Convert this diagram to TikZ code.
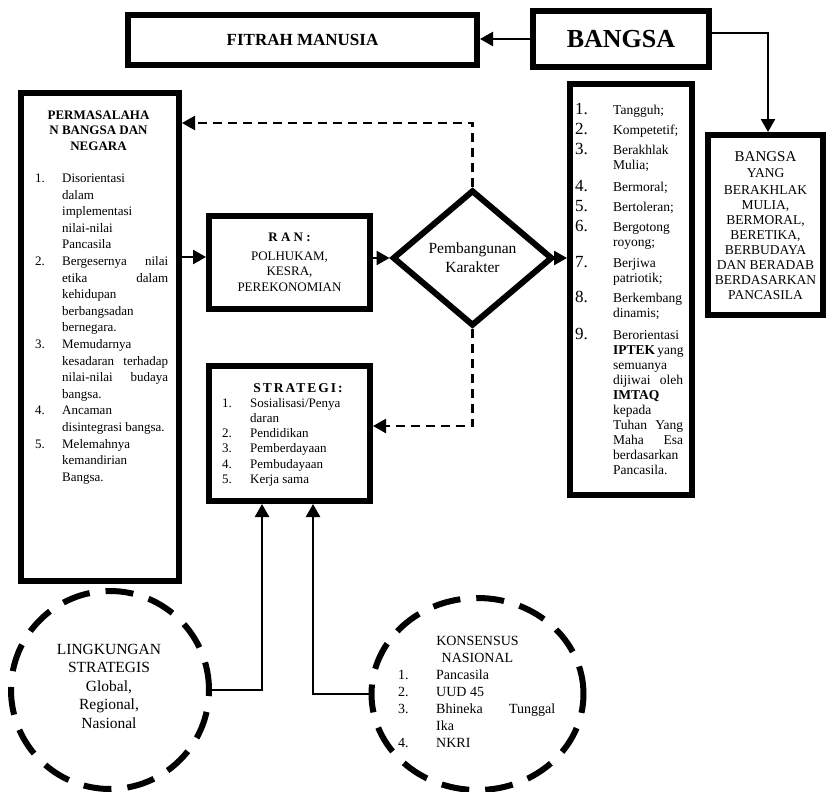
\documentclass[tikz,border=0pt]{standalone}
\usepackage{fontspec}
\setmainfont{Liberation Serif}
\usetikzlibrary{arrows.meta,shapes.geometric,positioning}

\newcommand{\nomor}[2][27pt]{\makebox[#1][l]{#2}}
\newcommand{\lanjut}[1][27pt]{\hspace*{#1}}
\newcommand{\rata}[2]{\makebox[#1][s]{#2}}

\tikzset{
  bingkai/.style={draw, line width=6pt, inner sep=0pt},
  txt/.style={inner sep=0pt, anchor=base west},
  link/.style={line width=2.5pt, -{Triangle[length=13pt,width=14pt]}},
  dashlink/.style={link, dash pattern=on 9pt off 6pt},
  ring/.style={draw, line width=6pt, dash pattern=on 28pt off 16pt, inner sep=0pt}
}

\begin{document}
\begin{tikzpicture}[x=1pt, y=-1pt, font=\fontsize{13}{15.5}\selectfont]
\useasboundingbox (0,0) rectangle (828,792);

% kotak-kotak
\node[bingkai, minimum width=349pt, minimum height=50pt, font=\fontsize{17}{20}\selectfont\bfseries] (fitrah) at (302.5,40) {FITRAH MANUSIA};
\node[bingkai, minimum width=176pt, minimum height=56pt, font=\fontsize{26}{30}\selectfont\bfseries] (bangsa) at (621,39) {BANGSA};
\node[bingkai, minimum width=115pt, minimum height=180pt] (moral) at (765.5,225) {};
\node[bingkai, minimum width=122pt, minimum height=411pt] (ciri) at (631,289.5) {};
\node[bingkai, minimum width=158pt, minimum height=488pt] (masalah) at (100,337) {};
\node[bingkai, minimum width=161pt, minimum height=93pt, align=center] (ran) at (289.5,262.5) {\textbf{R A N :}\\[3pt]POLHUKAM,\\KESRA,\\PEREKONOMIAN};
\node[bingkai, minimum width=161pt, minimum height=135pt] (strategi) at (289.5,433.5) {};
\node[diamond, draw, line width=6pt, inner sep=0pt, minimum width=160pt, minimum height=136pt, align=center, font=\fontsize{15.5}{19}\selectfont] (bangun) at (472.5,258) {Pembangunan\\Karakter};
\node[ring, circle, minimum size=198pt] (lingkungan) at (110,690) {};
\node[ring, ellipse, minimum width=212pt, minimum height=192pt] (konsensus) at (477.5,694) {};

% isi kotak kiri
\node[txt, anchor=base] (masalahjudul) at (98.5,119.5) {\parbox[t]{140pt}{\centering\bfseries PERMASALAHA\\N BANGSA DAN\\NEGARA}};
\node[txt, font=\fontsize{13}{16.6}\selectfont] (masalahisi) at (35,182.5) {\parbox[t]{135pt}{%
\nomor{1.}Disorientasi\\
\lanjut dalam\\
\lanjut implementasi\\
\lanjut nilai-nilai\\
\lanjut Pancasila\\
\nomor{2.}\rata{106pt}{Bergesernya nilai}\\
\lanjut\rata{106pt}{etika dalam}\\
\lanjut kehidupan\\
\lanjut berbangsadan\\
\lanjut bernegara.\\
\nomor{3.}Memudarnya\\
\lanjut\rata{106pt}{kesadaran terhadap}\\
\lanjut\rata{106pt}{nilai-nilai budaya}\\
\lanjut bangsa.\\
\nomor{4.}Ancaman\\
\lanjut disintegrasi bangsa.\\
\nomor{5.}Melemahnya\\
\lanjut kemandirian\\
\lanjut Bangsa.}};

% daftar ciri
\foreach \nn/\yy/\isi in {1/114/{Tangguh;}, 2/134/{Kompetetif;}, 3/154/{Berakhlak\\Mulia;},
  4/191/{Bermoral;}, 5/211/{Bertoleran;}, 6/231/{Bergotong\\royong;}, 7/267/{Berjiwa\\patriotik;},
  8/302/{Berkembang\\dinamis;}, 9/339/{Berorientasi\\\rata{70pt}{\textbf{IPTEK} yang}\\semuanya\\\rata{70pt}{dijiwai oleh}\\\textbf{IMTAQ}\\kepada\\\rata{70pt}{Tuhan Yang}\\\rata{70pt}{Maha Esa}\\berdasarkan\\Pancasila.}}
{
  \node[txt, font=\fontsize{17}{19}\selectfont] (angka\nn) at (575,\yy) {\nn.};
  \node[txt, font=\fontsize{13.5}{15}\selectfont] (ciri\nn) at (613,\yy) {\parbox[t]{72pt}{\isi}};
}

% kotak kanan
\node[txt, anchor=base, font=\fontsize{15}{17}\selectfont] (moraljudul) at (765.5,161) {BANGSA};
\node[txt, anchor=base, font=\fontsize{13.5}{15}\selectfont] (moralisi) at (765.5,177.5) {\parbox[t]{112pt}{\centering
YANG\\[2pt]BERAKHLAK\\MULIA,\\BERMORAL,\\BERETIKA,\\BERBUDAYA\\DAN BERADAB\\BERDASARKAN\\PANCASILA}};

% strategi
\node[txt, anchor=base, font=\fontsize{13.5}{16}\selectfont\bfseries\addfontfeature{LetterSpace=15}] (strategijudul) at (298,392) {STRATEGI:};
\node[txt, font=\fontsize{13}{15.3}\selectfont] (strategiisi) at (222,407) {\parbox[t]{145pt}{%
\nomor[28pt]{1.}Sosialisasi/Penya\\
\lanjut[28pt]daran\\
\nomor[28pt]{2.}Pendidikan\\
\nomor[28pt]{3.}Pemberdayaan\\
\nomor[28pt]{4.}Pembudayaan\\
\nomor[28pt]{5.}Kerja sama}};

% lingkaran
\node[txt, anchor=base, font=\fontsize{15.5}{18.5}\selectfont] (lingkunganisi) at (109,654) {\parbox[t]{130pt}{\centering LINGKUNGAN\\STRATEGIS\\Global,\\Regional,\\Nasional}};
\node[txt, anchor=base, font=\fontsize{14}{17}\selectfont] (konsensusjudul) at (477.5,645) {\parbox[t]{120pt}{\centering KONSENSUS\\NASIONAL}};
\node[txt, font=\fontsize{14}{17}\selectfont] (konsensusisi) at (398,679) {\parbox[t]{165pt}{%
\nomor[38pt]{1.}Pancasila\\
\nomor[38pt]{2.}UUD 45\\
\nomor[38pt]{3.}\rata{119pt}{Bhineka Tunggal}\\
\lanjut[38pt]Ika\\
\nomor[38pt]{4.}NKRI}};

% penghubung
\draw[link] (bangsa.west) -- (fitrah.east |- bangsa.west);
\draw[link] (bangsa.east |- 0,33) -| (768,0 |- moral.north);
\draw[dashlink] (bangun.north) |- (masalah.east |- 0,123);
\draw[link] (masalah.east |- 0,257) -- (ran.west |- 0,257);
\draw[link] (ran.east |- bangun.west) -- (bangun.west);
\draw[link] (bangun.east) -- (ciri.west |- bangun.east);
\draw[dashlink] (bangun.south) |- (strategi.east |- 0,426);
\draw[link] (lingkungan.east) -| (262,0 |- strategi.south);
\draw[link] (konsensus.west) -| (313,0 |- strategi.south);
\end{tikzpicture}
\end{document}
